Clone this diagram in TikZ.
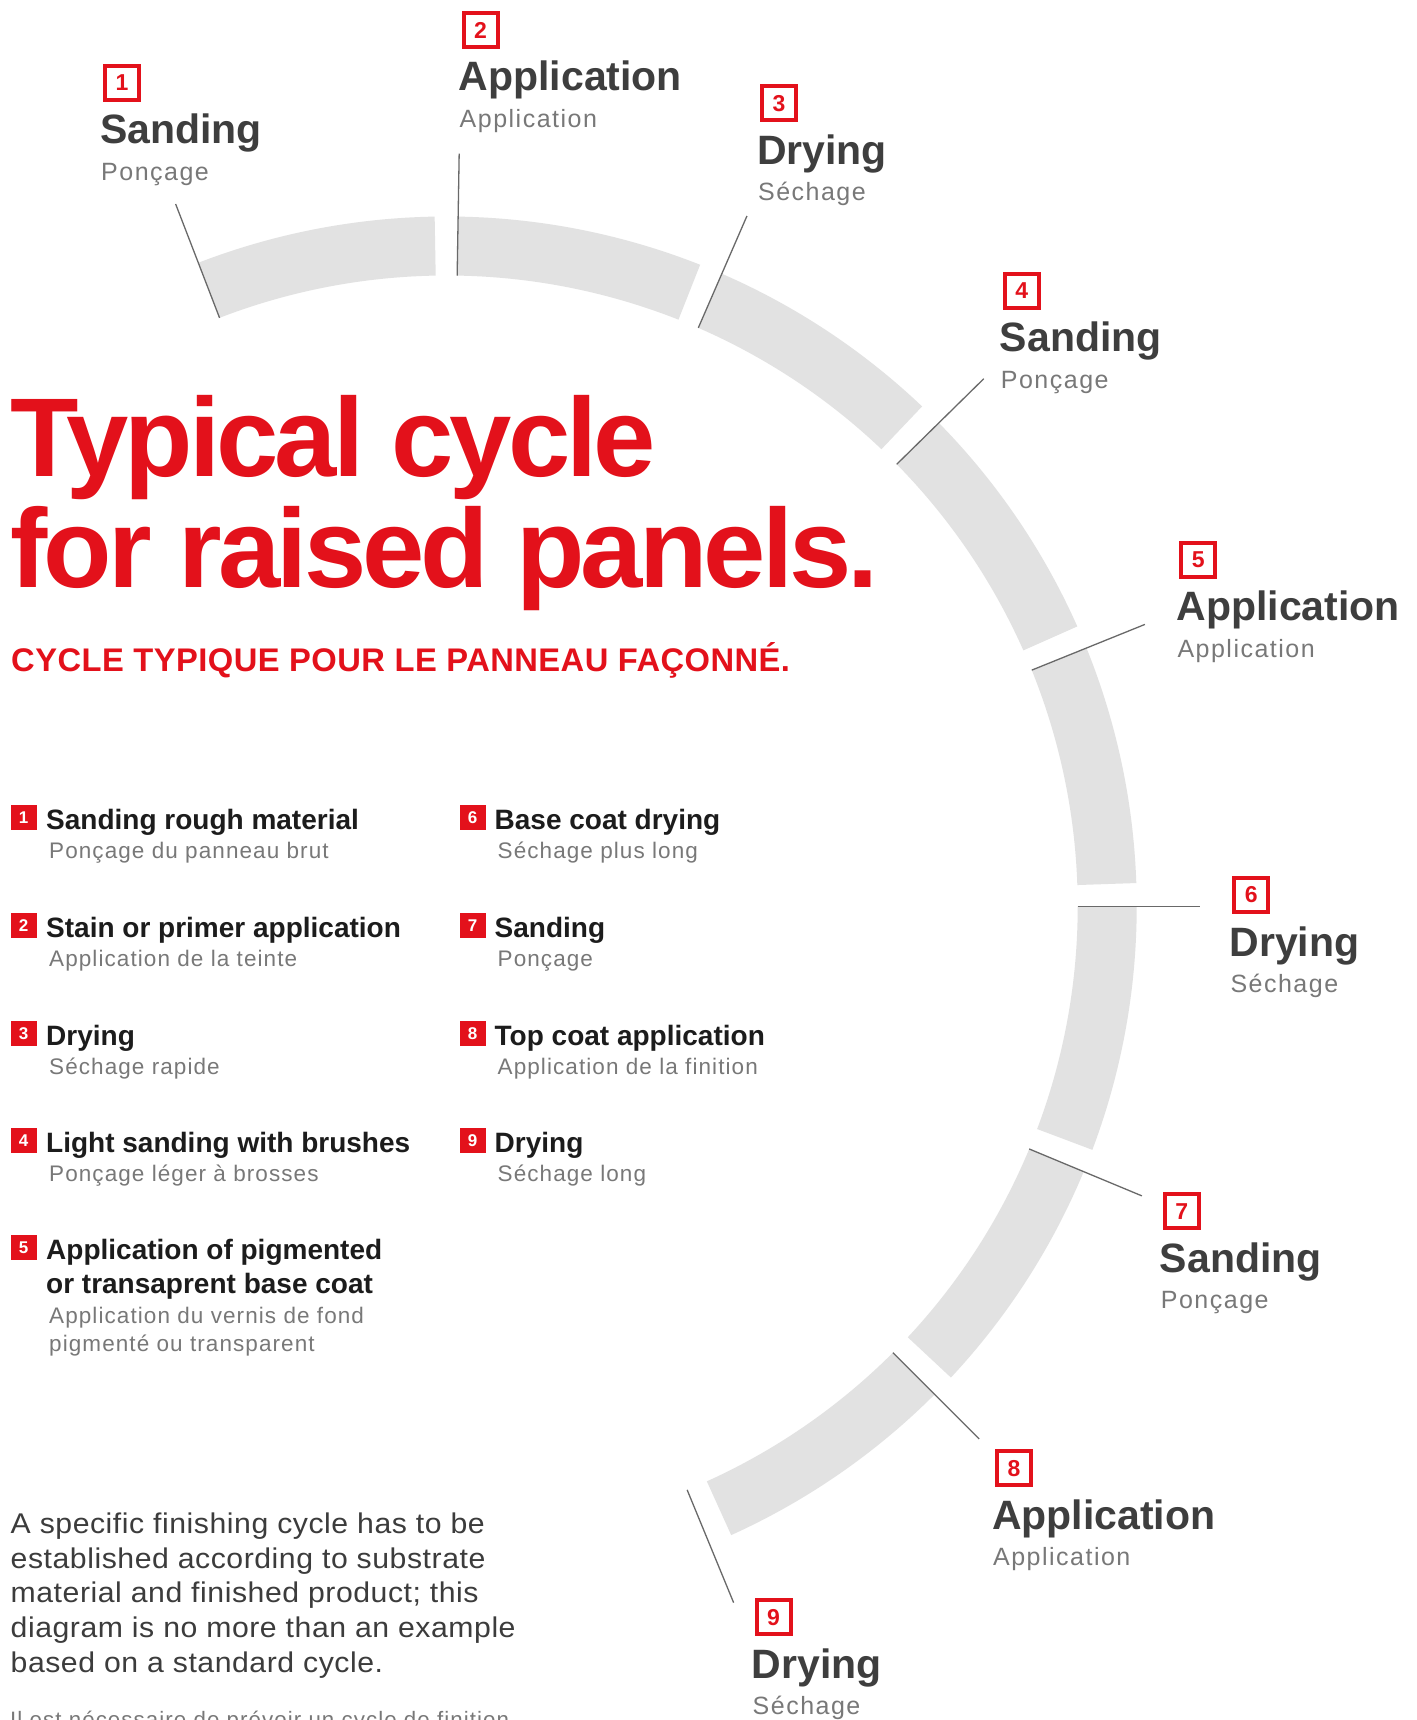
\documentclass[tikz,border=0pt]{standalone}
\usepackage{fontspec}
\usetikzlibrary{calc}
\setmainfont{Liberation Sans}
\newfontfamily\titlef[LetterSpace=-3.5]{Liberation Sans}
\newfontfamily\subtf[LetterSpace=1.4]{Liberation Sans}
\newfontfamily\labsubf[LetterSpace=6]{Liberation Sans}
\newfontfamily\listsubf[LetterSpace=4.8]{Liberation Sans}
\newfontfamily\paraf[FakeStretch=1.06,LetterSpace=1.9]{Liberation Sans}
\definecolor{redc}{RGB}{227,17,27}
\definecolor{labdark}{RGB}{62,62,62}
\definecolor{listdark}{RGB}{28,28,28}
\definecolor{subgray}{RGB}{120,120,120}
\definecolor{paradark}{RGB}{60,60,60}
\definecolor{ringgray}{RGB}{226,226,226}
\definecolor{leadgray}{RGB}{105,105,105}
\tikzset{
  numbox/.style={draw=redc, line width=4pt, minimum width=34pt, minimum height=34pt, inner sep=0pt, text=redc, font=\bfseries\fontsize{23}{23}\selectfont},
  biglab/.style={anchor=base west, inner sep=0pt, text=labdark, font=\bfseries\fontsize{41}{41}\selectfont},
  smalllab/.style={anchor=base west, inner sep=0pt, text=subgray, font=\labsubf\fontsize{25}{25}\selectfont},
  ringseg/.style={fill=ringgray},
  leaderline/.style={draw=leadgray, line width=1.3pt},
  listbox/.style={fill=redc, minimum width=26pt, minimum height=25pt, inner sep=0pt, text=white, font=\bfseries\fontsize{17}{17}\selectfont},
  listtitle/.style={anchor=base west, inner sep=0pt, text=listdark, font=\bfseries\fontsize{28}{28}\selectfont},
  listsub/.style={anchor=base west, inner sep=0pt, text=subgray, font=\listsubf\fontsize{22.5}{22.5}\selectfont},
  paratext/.style={anchor=base west, inner sep=0pt, text=paradark, font=\paraf\fontsize{28.5}{28.5}\selectfont},
  titletext/.style={anchor=base west, inner sep=0pt, text=redc, font=\titlef\bfseries\fontsize{112}{112}\selectfont},
}
\begin{document}
\begin{tikzpicture}[x=1pt,y=1pt]
\useasboundingbox (0,0) rectangle (1416,-1720);
\fill[white] (0,0) rectangle (1416,-1720);
\clip (0,0) rectangle (1416,-1720);

% ring
\coordinate (c0) at (446.7,-906.5);
\foreach \a/\b in {111.1/91.0, 89.05/68.45, 66.5/46.45, 44.5/23.95, 22.0/1.95, 0/-20.65, -22.6/-43.05, -45/-65.65}{
  \fill[ringseg] ($(c0)+(\a:690)$) arc[start angle=\a, end angle=\b, radius=690]
    -- ($(c0)+(\b:631)$) arc[start angle=\b, end angle=\a, radius=631] -- cycle;
}
% leaders
\foreach \a [count=\i] in {111.1,89.05,66.5,44.5,22.0,0,-22.6,-45,-67.6}{
  \coordinate (lin\i) at ($(c0)+(\a:631)$);
  \coordinate (lout\i) at ($(c0)+(\a:753)$);
  \draw[leaderline] (lin\i) -- (lout\i);
}

% ring labels
\foreach \n/\bx/\by/\ttl/\sbt in {
  1/103/63.7/Sanding/Ponçage,
  2/461.5/11/Application/Application,
  3/759.9/84.3/Drying/Séchage,
  4/1002.7/271.7/Sanding/Ponçage,
  5/1179.3/540.7/Application/Application,
  6/1232.3/876/Drying/Séchage,
  7/1162.7/1192.3/Sanding/Ponçage,
  8/994.9/1449.3/Application/Application,
  9/754.5/1598.3/Drying/Séchage}{
  \node[numbox] (box\n) at (\bx+19,-\by-19) {\n};
  \node[biglab] (big\n) at (\bx-3,-\by-80) {\ttl};
  \node[smalllab] (sub\n) at (\bx-2,-\by-116.5) {\sbt};
}

% title
\node[titletext] (title1) at (10,-476) {Typical cycle};
\node[titletext] (title2) at (10,-587.3) {for raised panels.};
\node[anchor=base west, inner sep=0pt, text=redc, font=\subtf\bfseries\fontsize{32.7}{33}\selectfont] (subtitle) at (11,-671.7) {CYCLE TYPIQUE POUR LE PANNEAU FAÇONNÉ.};

% list
\foreach \n/\cx/\tx/\sx/\yb/\ttl/\sbt in {
  1/23.7/46/49/829/Sanding rough material/Ponçage du panneau brut,
  2/23.7/46/49/937/Stain or primer application/Application de la teinte,
  3/23.7/46/49/1045/Drying/Séchage rapide,
  4/23.7/46/49/1152/Light sanding with brushes/Ponçage léger à brosses,
  6/472.6/494.5/497.5/829/Base coat drying/Séchage plus long,
  7/472.6/494.5/497.5/937/Sanding/Ponçage,
  8/472.6/494.5/497.5/1045/Top coat application/Application de la finition,
  9/472.6/494.5/497.5/1152/Drying/Séchage long}{
  \node[listbox] (li\n) at (\cx,-\yb+11.7) {\n};
  \node[listtitle] (lt\n) at (\tx,-\yb) {\ttl};
  \node[listsub] (ls\n) at (\sx,-\yb-29.5) {\sbt};
}
\node[listbox] (li5) at (23.7,-1259+11.7) {5};
\node[listtitle] (lt5a) at (46,-1259) {Application of pigmented};
\node[listtitle] (lt5b) at (46,-1293.8) {or transaprent base coat};
\node[listsub] (ls5a) at (49,-1323.4) {Application du vernis de fond};
\node[listsub] (ls5b) at (49,-1351) {pigmenté ou transparent};

% paragraph
\node[paratext] (p1) at (10.5,-1533.3) {A specific finishing cycle has to be};
\node[paratext] (p2) at (10.5,-1568) {established according to substrate};
\node[paratext] (p3) at (10.5,-1602.7) {material and finished product; this};
\node[paratext] (p4) at (10.5,-1637.4) {diagram is no more than an example};
\node[paratext] (p5) at (10.5,-1672) {based on a standard cycle.};
\node[anchor=base west, inner sep=0pt, text=subgray, font=\listsubf\fontsize{22.3}{22.3}\selectfont] (p6) at (10,-1727) {Il est nécessaire de prévoir un cycle de finition};
\end{tikzpicture}
\end{document}
